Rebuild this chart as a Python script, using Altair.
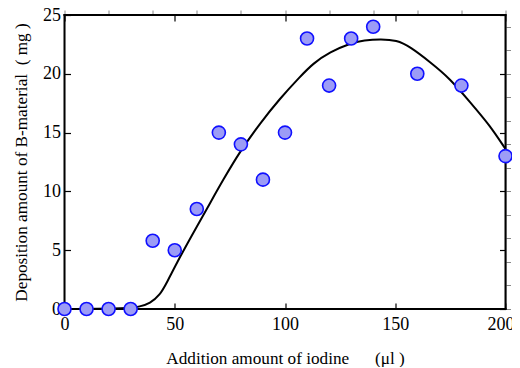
import altair as alt
import pandas as pd

# measured points
iodine = [0, 10, 20, 30, 40, 50, 60, 70, 80, 90, 100, 110, 120, 130, 140, 160, 180, 200]
deposit = [0, 0, 0, 0, 5.8, 5, 8.5, 15, 14, 11, 15, 23, 19, 23, 24, 20, 19, 13]

# fitted curve
curve_x = [0, 29.7, 34, 38.8, 43.3, 46.3, 52.4, 60, 66, 72, 79.6, 88.7, 97.7, 106.8, 112.8,
           120.4, 129.5, 136, 143.1, 150.7, 156.7, 165.8, 174.8, 183.9, 193, 200]
curve_y = [0, 0.05, 0.2, 0.48, 1.19, 2.2, 4.45, 7.0, 9.0, 11.0, 13.4, 15.8, 17.9, 19.75, 20.9,
           21.85, 22.6, 22.85, 22.96, 22.87, 22.3, 21.0, 19.6, 17.6, 15.6, 13.6]

x_ticks = [0, 50, 100, 150, 200]
y_ticks = [0, 5, 10, 15, 20, 25]
x_range = [0, 200]
y_range = [0, 25]

pts = pd.DataFrame({"x": iodine, "y": deposit})
crv = pd.DataFrame({"x": curve_x, "y": curve_y})
edges = pd.DataFrame({
    "x": [x_range[0], x_range[1], x_range[0], x_range[0]],
    "x2": [x_range[0], x_range[1], x_range[1], x_range[1]],
    "y": [y_range[0], y_range[0], y_range[0], y_range[1]],
    "y2": [y_range[1], y_range[1], y_range[0], y_range[1]],
})

FONT = "Liberation Serif"

xscale = alt.Scale(domain=x_range, nice=False, zero=False)
yscale = alt.Scale(domain=y_range, nice=False, zero=False)

common_axis = dict(
    domain=False, tickColor="black", tickWidth=1.2, tickSize=6, offset=-6,
    labelFont=FONT, labelFontSize=18, labelColor="black", grid=False, labelFlush=False,
    titleFont=FONT, titleFontSize=17.2, titleFontWeight="normal", titleColor="black",
)

x_bottom = alt.Axis(values=x_ticks, orient="bottom", labelPadding=6,
                    labelOffset={"condition": {"test": "datum.value == 200", "value": -5}, "value": 0},
                    title="Addition amount of iodine\u2003\u2002(\u03bcl )", titlePadding=16, **common_axis)
y_left = alt.Axis(values=y_ticks, orient="left", labelPadding=4,
                  title="Deposition amount of B-material\u2002( mg )", titlePadding=12, **common_axis)
x_top = alt.Axis(values=x_ticks, orient="top", labels=False, title=None, **common_axis)
y_right = alt.Axis(values=y_ticks, orient="right", labels=False, title=None, **common_axis)

line = alt.Chart(crv).mark_line(color="black", strokeWidth=2, interpolate="basis").encode(
    x=alt.X("x:Q", scale=xscale, axis=x_bottom),
    y=alt.Y("y:Q", scale=yscale, axis=y_left),
)

frame = alt.Chart(edges).mark_rule(color="black", strokeWidth=2, strokeCap="square").encode(
    x=alt.X("x:Q", scale=xscale),
    x2="x2:Q",
    y=alt.Y("y:Q", scale=yscale),
    y2="y2:Q",
)

points = alt.Chart(pts).mark_point(
    shape="circle", filled=True, size=170, fill="#9c9cf6", stroke="#1010ff", strokeWidth=1.6, opacity=1
).encode(
    x=alt.X("x:Q", scale=xscale, axis=x_top),
    y=alt.Y("y:Q", scale=yscale, axis=y_right),
)

chart = alt.layer(line, frame, points).resolve_axis(x="independent", y="independent").properties(
    width=441, height=294,
    background="white",
    autosize=alt.AutoSizeParams(type="none"),
    padding={"left": 56.5, "top": 7, "right": 6.5, "bottom": 58},
)

chart.save("out.html", embed_options={"renderer": "svg", "actions": False})
